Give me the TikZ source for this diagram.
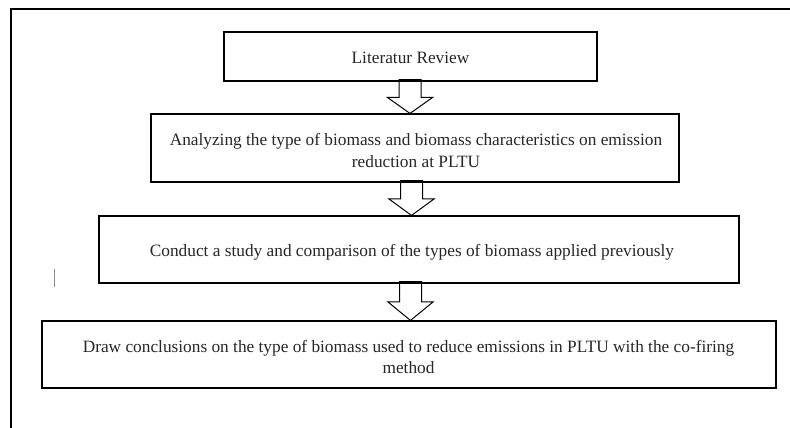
\documentclass[tikz,border=0pt]{standalone}
\usepackage{fontspec}
\setmainfont{Liberation Serif}
\usetikzlibrary{calc}

\tikzset{
  stepbox/.style={draw=black, line width=1.1pt, inner sep=0pt},
  boxtext/.style={inner sep=0pt, align=center, text=black!85,
                  font=\fontsize{17.3}{21.5}\selectfont},
  blockarr/.style={draw=black, line width=1pt, line join=miter},
  frameline/.style={draw=black, line width=1.8pt},
}

% hollow block arrow from the bottom of node #1 to the top of node #2, centred at x=#3
\newcommand\flowarrow[3]{%
  \path[blockarr] let \p1=(#1.south), \p2=(#2.north),
      \n1={\y1+2pt}, \n2={\y2+0.5*(\y1-\y2)} in
    ({#3-11pt},\n1) -- ({#3+11pt},\n1) -- ({#3+11pt},\n2) -- ({#3+22.5pt},\n2)
    -- (#3,\y2) -- ({#3-22.5pt},\n2) -- ({#3-11pt},\n2) -- cycle;}

\begin{document}
\begin{tikzpicture}[x=1pt, y=1pt]
  \useasboundingbox (0,0) rectangle (790,428);

  % page frame (top and left edges)
  \draw[frameline] (790,419) -- (11,419) -- (11,0);
  % stray cursor mark
  \draw[black!45, line width=1pt] (54,159) -- (54,141);

  % process boxes
  \node[stepbox, minimum width=373pt, minimum height=49pt] (b1) at (410.5,371.5) {};
  \node[stepbox, minimum width=528pt, minimum height=68pt] (b2) at (415,280) {};
  \node[stepbox, minimum width=640pt, minimum height=67pt] (b3) at (419,178.5) {};
  \node[stepbox, minimum width=734pt, minimum height=67pt] (b4) at (409,73.5) {};

  % box texts
  \node[boxtext] (t1) at ([yshift=-1pt]b1.center) {Literatur Review};
  \node[boxtext] (t2) at ([xshift=1pt,yshift=-2.5pt]b2.center)
    {Analyzing the type of biomass and biomass characteristics on emission\\reduction at PLTU};
  \node[boxtext] (t3) at ([xshift=-7pt,yshift=-2.5pt]b3.center)
    {Conduct a study and comparison of the types of biomass applied previously};
  \node[boxtext] (t4) at ([xshift=-0.5pt,yshift=-2.5pt]b4.center)
    {Draw conclusions on the type of biomass used to reduce emissions in PLTU with the co-firing\\method};

  % flow arrows
  \flowarrow{b1}{b2}{410pt}
  \flowarrow{b2}{b3}{411.5pt}
  \flowarrow{b3}{b4}{410.5pt}
\end{tikzpicture}
\end{document}
